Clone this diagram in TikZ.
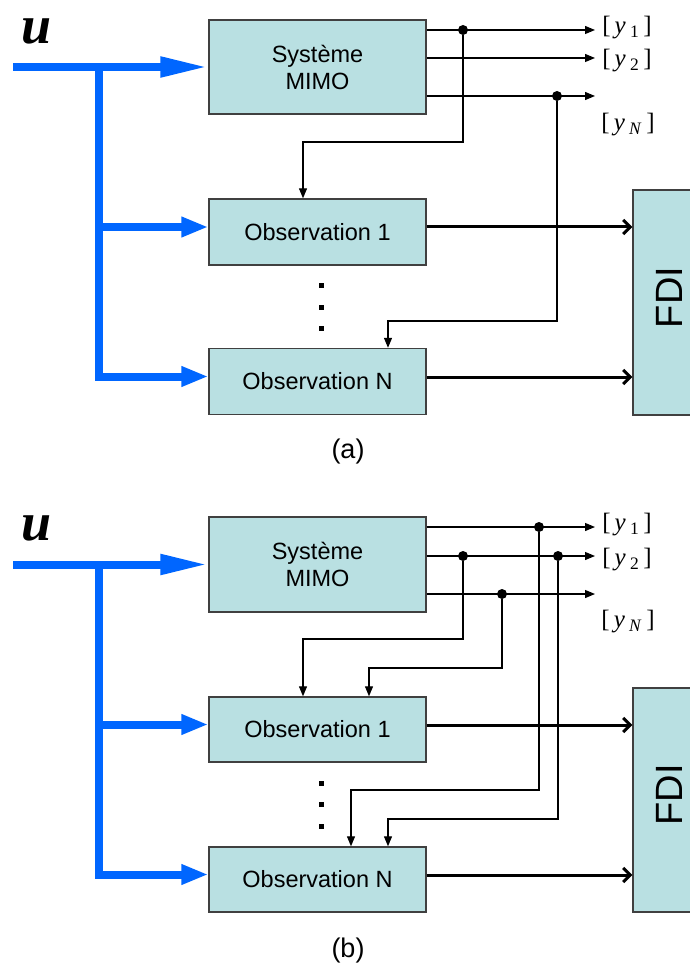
\documentclass[tikz,border=0pt]{standalone}
\usepackage{fontspec}
\usepackage{graphicx}
\setmainfont{Liberation Sans}
\newfontfamily\timesfont{Liberation Serif}
\usetikzlibrary{arrows.meta, calc}

\definecolor{boxcyan}{RGB}{185,224,226}
\definecolor{busblue}{RGB}{0,102,255}

\newcommand{\ylab}[1]{{\timesfont[\,\textit{y}\,\textsubscript{#1}\,]}}

\begin{document}
\begin{tikzpicture}[x=1pt, y=-1pt,
    block/.style={draw=black!75, line width=1.4pt, fill=boxcyan, minimum width=217pt,
                  align=center, inner sep=0pt, font=\fontsize{23.5}{27}\selectfont},
    fdibox/.style={draw=black!75, line width=1.4pt, fill=boxcyan, minimum width=72pt,
                   minimum height=225pt, inner sep=0pt, font=\fontsize{38}{40}\selectfont},
    busarrow/.style={busblue, line width=8pt, -{Triangle[length=27pt, width=19pt]}},
    wire/.style={line width=1.2pt, -{Triangle[length=10pt, width=8pt]}},
    outarrow/.style={line width=3pt, -{Straight Barb[length=7pt, width=14pt]}},
    dot/.style={circle, fill=black, inner sep=0pt, minimum size=10pt},
    ylabel/.style={inner sep=0pt, font=\fontsize{25}{27}\selectfont},
    ulabel/.style={inner sep=0pt, font=\timesfont\bfseries\itshape\fontsize{54}{56}\selectfont},
    caption/.style={font=\fontsize{27}{29}\selectfont}
]
    \useasboundingbox[fill=white] (0,0) rectangle (689,973);

    % ================= (a) =================
    % --- Blocks ---
    \node[block, minimum height=94pt] (mimoA)   at (317.5,67)    {Système\\MIMO};
    \node[block, minimum height=66pt] (obsoneA) at (317.5,232)   {Observation 1};
    \node[block, minimum height=66pt] (obsnA)   at (317.5,381.5) {Observation N};
    \node[fdibox] (fdiA) at (669,302.5) {\rotatebox{90}{\hspace{10pt}FDI}};
    \node[ulabel] (uA) at (37,31) {u};

    % --- Input bus ---
    \coordinate (inA) at (13,67);
    \coordinate (tA)  at (99,67);
    \draw[busarrow, -{Triangle[length=48pt, width=19pt]}] (inA) -- (mimoA.west);
    \draw[busarrow] (tA) |- ([yshift=5pt]obsnA.west);
    \draw[busarrow] (99,227) -- ([yshift=5pt]obsoneA.west);

    % --- Outputs ---
    \coordinate (oA1) at (595,30);
    \coordinate (oA2) at (595,58);
    \coordinate (oAN) at (595,96);
    \draw[wire] (mimoA.east |- oA1) -- (oA1);
    \draw[wire] (mimoA.east |- oA2) -- (oA2);
    \draw[wire] (mimoA.east |- oAN) -- (oAN);
    \node[ylabel] (yA1) at (627,28)  {\ylab{1}};
    \node[ylabel] (yA2) at (627,61)  {\ylab{2}};
    \node[ylabel] (yAN) at (628,125) {\ylab{\textit{N}}};

    % --- Feedback to observers ---
    \node[dot] (jA1) at (463,30) {};
    \node[dot] (jA2) at (557,96) {};
    \draw[wire] (jA1) |- (303,142) -- (obsoneA.north -| 303,0);
    \draw[wire] (jA2) |- (388,321) -- (obsnA.north -| 388,0);

    % --- To FDI ---
    \draw[outarrow] (obsoneA.east |- 0,227) -- (fdiA.west |- 0,227);
    \draw[outarrow] (obsnA.east |- 0,377) -- (fdiA.west |- 0,377);

    \foreach \y in {285,307,328}
        \fill (318.5,\y-2.5) rectangle ++(5,5);
    \node[caption] (capA) at (348,452) {(a)};

    % ================= (b) =================
    % --- Blocks ---
    \node[block, minimum height=95pt] (mimoB)   at (317.5,564.5) {Système\\MIMO};
    \node[block, minimum height=65pt] (obsoneB) at (317.5,729.5) {Observation 1};
    \node[block, minimum height=65pt] (obsnB)   at (317.5,879.5) {Observation N};
    \node[fdibox, minimum height=224pt] (fdiB) at (669,800) {\rotatebox{90}{\hspace{10pt}FDI}};
    \node[ulabel] (uB) at (37,528) {u};

    % --- Input bus ---
    \coordinate (inB) at (13,564.5);
    \coordinate (tB)  at (99,564.5);
    \draw[busarrow, -{Triangle[length=48pt, width=19pt]}] (inB) -- (mimoB.west);
    \draw[busarrow] (tB) |- ([yshift=5pt]obsnB.west);
    \draw[busarrow] (99,724.5) -- ([yshift=5pt]obsoneB.west);

    % --- Outputs ---
    \coordinate (oB1) at (595,527);
    \coordinate (oB2) at (595,556);
    \coordinate (oBN) at (595,594);
    \draw[wire] (mimoB.east |- oB1) -- (oB1);
    \draw[wire] (mimoB.east |- oB2) -- (oB2);
    \draw[wire] (mimoB.east |- oBN) -- (oBN);
    \node[ylabel] (yB1) at (627,525) {\ylab{1}};
    \node[ylabel] (yB2) at (627,560) {\ylab{2}};
    \node[ylabel] (yBN) at (628,622) {\ylab{\textit{N}}};

    % --- Feedback to observers ---
    \node[dot] (jB1) at (539,527) {};
    \node[dot] (jB2) at (463,556) {};
    \node[dot] (jB3) at (502,594) {};
    \node[dot] (jB4) at (558,556) {};
    \draw[wire] (jB2) |- (303,639) -- (obsoneB.north -| 303,0);
    \draw[wire] (jB3) |- (369,668) -- (obsoneB.north -| 369,0);
    \draw[wire] (jB1) |- (351,790) -- (obsnB.north -| 351,0);
    \draw[wire] (jB4) |- (388,819) -- (obsnB.north -| 388,0);

    % --- To FDI ---
    \draw[outarrow] (obsoneB.east |- 0,725) -- (fdiB.west |- 0,725);
    \draw[outarrow] (obsnB.east |- 0,875) -- (fdiB.west |- 0,875);

    \foreach \y in {783,804,826}
        \fill (318.5,\y-2.5) rectangle ++(5,5);
    \node[caption] (capB) at (348,951) {(b)};
\end{tikzpicture}
\end{document}
